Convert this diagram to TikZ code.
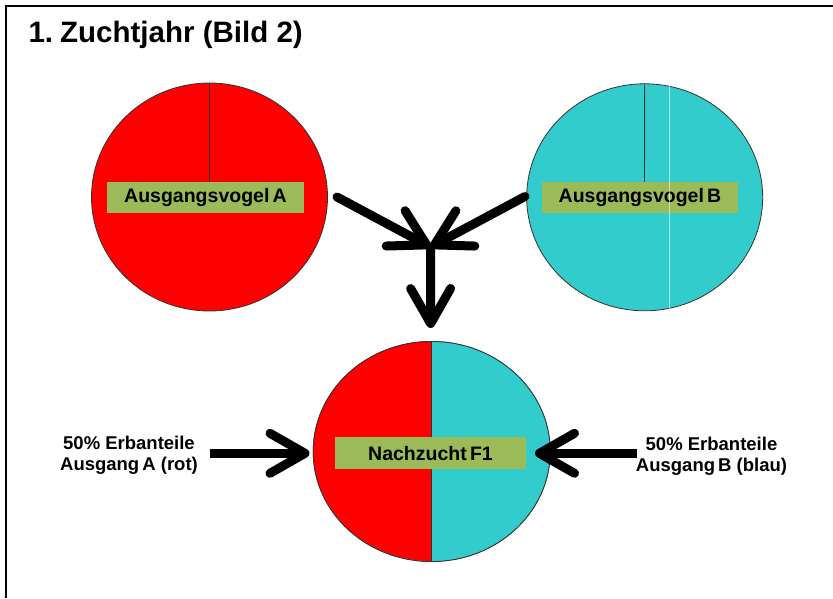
\documentclass[tikz,border=0pt]{standalone}
\usepackage{fontspec}
\setmainfont{Liberation Sans}
\usetikzlibrary{arrows.meta,shapes.geometric}
\definecolor{birdred}{HTML}{FF0000}
\definecolor{birdcyan}{HTML}{33CCCC}
\definecolor{tagolive}{HTML}{9BBB59}
\definecolor{rimgray}{HTML}{333333}
\begin{document}
\begin{tikzpicture}[x=1pt,y=-1pt,
  bird/.style={ellipse,draw=rimgray,line width=0.8pt,inner sep=0pt},
  tag/.style={fill=tagolive,inner sep=0pt,font=\bfseries\fontsize{19.5}{21}\selectfont},
  note/.style={align=center,font=\bfseries\fontsize{18.5}{21}\selectfont,inner sep=0pt},
  bigarrow/.style={line width=9pt,line cap=round,line join=round,
    -{Straight Barb[length=35pt,width=40pt,round]}},
  divider/.style={draw=rimgray,line width=0.9pt}]
% canvas and frame
\useasboundingbox (0,0) rectangle (833,598);
\fill[white] (0,0) rectangle (833,598);
\draw[line width=2pt] (6,598) -- (6,6) -- (833,6);

% title
\node[anchor=base west,inner sep=0pt,font=\bfseries\fontsize{29.5}{33}\selectfont]
  (title) at (28.3,42.3) {1.\hspace{0.24em}Zuchtjahr (Bild 2)};

% parent bird A (red)
\node[bird,fill=birdred,minimum width=236pt,minimum height=228pt] (birdA) at (209.5,197) {};
\draw[divider] (birdA.north) -- (209.5,182.3);
\node[tag,minimum width=197.6pt,minimum height=31pt] (tagA) at (205.5,197.8) {Ausgangsvogel\,A};

% parent bird B (cyan)
\node[bird,fill=birdcyan,minimum width=236pt,minimum height=227pt] (birdB) at (644.7,197.3) {};
\draw[divider] (birdB.north) -- (644.5,182.3);
\node[tag,minimum width=196.6pt,minimum height=31pt] (tagB) at (640,197.8) {Ausgangsvogel\,B};
\draw[white,opacity=0.55,line width=0.8pt] (669.3,84.5) -- (669.3,310.2);

% offspring F1: half red, half cyan
\node[bird,minimum width=237pt,minimum height=220pt] (f1) at (431.7,451.5) {};
\fill[birdred] (f1.north) arc[start angle=90,end angle=270,x radius=118.5pt,y radius=110pt] -- cycle;
\fill[birdcyan] (f1.north) arc[start angle=90,end angle=-90,x radius=118.5pt,y radius=110pt] -- cycle;
\draw[draw=rimgray,line width=0.8pt] (f1.center) ellipse[x radius=118.5pt,y radius=110pt];
\draw[divider] (f1.north) -- (f1.south);
\node[tag,minimum width=191pt,minimum height=31.5pt] (tagF) at (430.5,453.2) {Nachzucht\,F1};

% side notes
\node[note] (noteA) at (129,455.5) {50\% Erbanteile\\Ausgang\,A (rot)};
\node[note] (noteB) at (711.5,456.5) {50\% Erbanteile\\Ausgang\,B (blau)};

% arrows
\coordinate (join) at (430.5,247);
\coordinate (startA) at (337,197);
\coordinate (startB) at (525,196.5);
\coordinate (tipF) at (430.7,328);
\coordinate (tipL) at (309.5,453.3);
\coordinate (tipR) at (535,453.3);
\coordinate (tailL) at (210,453.3);
\coordinate (tailR) at (637,453.3);
\draw[bigarrow] (startA) -- (join);
\draw[bigarrow] (startB) -- (join);
\draw[bigarrow] (join) -- (tipF);
\draw[bigarrow,line cap=butt] (tailL) -- (tipL);
\draw[bigarrow,line cap=butt] (tailR) -- (tipR);
\end{tikzpicture}
\end{document}
